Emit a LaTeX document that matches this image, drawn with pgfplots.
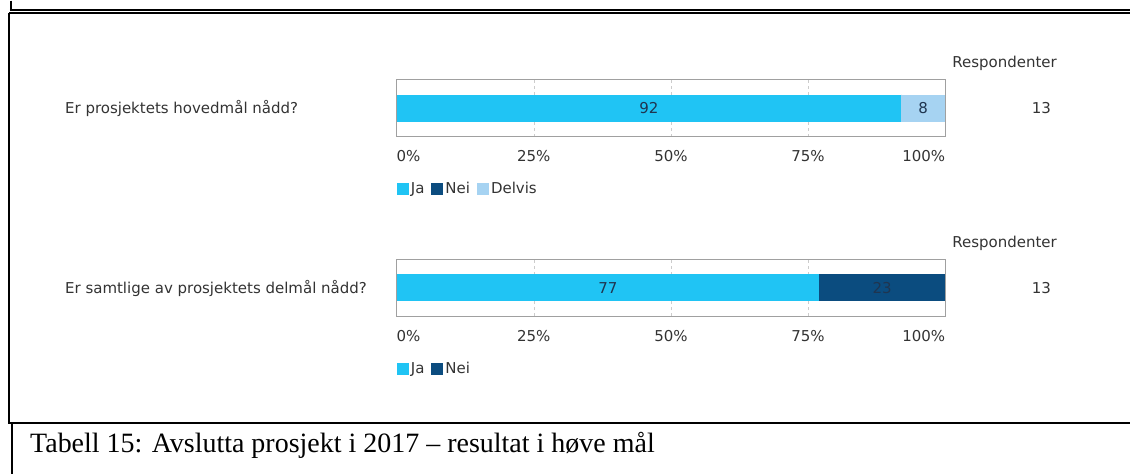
\documentclass[border=0pt]{standalone}
\usepackage{pgfplots}
\pgfplotsset{compat=1.18}
\usepackage{fontspec}
\setmainfont{DejaVu Sans}
\newfontfamily\capfont{Liberation Serif}
\definecolor{ja}{HTML}{20C4F4}
\definecolor{nei}{HTML}{0B4C7F}
\definecolor{delvis}{HTML}{A6D3F2}
\definecolor{txt}{HTML}{333333}
\definecolor{lab}{HTML}{1F3550}
\definecolor{frame}{HTML}{A0A0A0}
\newcommand{\cf}{\fontsize{15}{18}\selectfont}
\pgfplotsset{
  qbar/.style={
    scale only axis, width=549pt, height=57pt,
    xmin=0, xmax=100, ymin=-1, ymax=1,
    axis line style={draw=frame, line width=1.2pt},
    ytick=\empty,
    xtick={0,25,50,75,100},
    xticklabels={\makebox[0pt][l]{0\%},25\%,50\%,75\%,\makebox[0pt][r]{100\%}},
    major tick length=0pt,
    xmajorgrids, grid style={dashed, gray!40},
    xticklabel style={anchor=north, yshift=-14pt, font=\cf, text=txt, inner sep=0pt},
    legend style={at={(0,-0.80)}, anchor=north west, draw=none, fill=none, inner sep=0pt,
      font=\cf, text=txt, nodes={inner xsep=2pt, inner ysep=0pt},
      /tikz/every even column/.append style={column sep=5pt}},
    legend columns=-1,
    legend image code/.code={\fill[##1] (0pt,-6pt) rectangle (12pt,6pt);},
  },
  vlab/.style={draw=none, mark=none, forget plot, nodes near coords,
    point meta=explicit symbolic,
    every node near coord/.append style={anchor=center, font=\cf, text=lab}},
}
\begin{document}
\begin{tikzpicture}[x=1pt,y=1pt]
\path (0pt,0pt) rectangle (1131pt,474pt);
% frames of the page
\draw[line width=1.5pt] (11pt,474pt) -- (11pt,464.5pt);
\draw[line width=1.5pt] (10pt,464.5pt) -- (1131pt,464.5pt);
\draw[line width=1.5pt] (9.5pt,461.5pt) -- (1131pt,461.5pt);
\draw[line width=2pt] (9.5pt,462pt) -- (9.5pt,51pt);
\draw[line width=2pt] (8.5pt,51pt) -- (1131pt,51pt);
\draw[line width=1.5pt] (12pt,51pt) -- (12pt,0pt);

% question 1
\begin{axis}[qbar, at={(397pt,338pt)}, anchor=south west]
\addplot[fill=ja, draw=none] coordinates {(0,-0.474) (92,-0.474) (92,0.474) (0,0.474)};
\addlegendentry{Ja}
\addplot[fill=nei, draw=none] coordinates {(92,-0.474) (92,-0.474) (92,0.474) (92,0.474)};
\addlegendentry{Nei}
\addplot[fill=delvis, draw=none] coordinates {(92,-0.474) (100,-0.474) (100,0.474) (92,0.474)};
\addlegendentry{Delvis}
\addplot[vlab] coordinates {(46,0) [92] (96,0) [8]};
\end{axis}

% question 2
\begin{axis}[qbar, at={(397pt,158pt)}, anchor=south west]
\addplot[fill=ja, draw=none] coordinates {(0,-0.474) (77,-0.474) (77,0.474) (0,0.474)};
\addlegendentry{Ja}
\addplot[fill=nei, draw=none] coordinates {(77,-0.474) (100,-0.474) (100,0.474) (77,0.474)};
\addlegendentry{Nei}
\addplot[vlab] coordinates {(38.5,0) [77] (88.5,0) [23]};
\end{axis}

\begin{scope}[every node/.style={font=\cf, text=txt, inner sep=0pt}]
\node[anchor=west] at (65pt,366.5pt) {Er prosjektets hovedmål nådd?};
\node[anchor=west] at (65pt,186.5pt) {Er samtlige av prosjektets delmål nådd?};
\node[anchor=west] at (953pt,411pt) {Respondenter};
\node[anchor=east] at (1052pt,366.5pt) {13};
\node[anchor=west] at (953pt,231pt) {Respondenter};
\node[anchor=east] at (1052pt,186.5pt) {13};
\end{scope}

\node[anchor=west, inner sep=0pt, font=\capfont\fontsize{28}{32}\selectfont] at (30pt,29pt)
  {Tabell 15: Avslutta prosjekt i 2017 – resultat i høve mål};
\end{tikzpicture}
\end{document}
